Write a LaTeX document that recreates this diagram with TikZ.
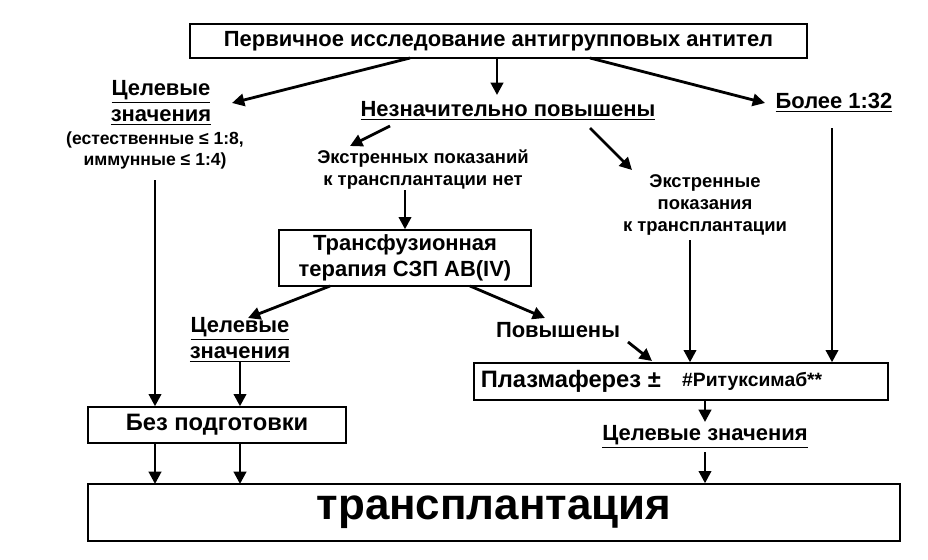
\documentclass[tikz,border=0pt]{standalone}
\usepackage{fontspec}
\setmainfont{Liberation Sans}
\usetikzlibrary{arrows.meta}
\begin{document}
\begin{tikzpicture}[x=0.02cm,y=-0.02cm,
 box/.style={draw,line width=0.8pt,inner sep=0pt},
 t/.style={font=\bfseries\fontsize{11}{13}\selectfont,align=center},
 arr/.style={line width=1.6pt,-{Triangle[length=7pt,width=7pt]}}]
\useasboundingbox (0,0) rectangle (928,559);
\node[box,minimum width=617*0.02cm,minimum height=34*0.02cm,t,font=\bfseries\fontsize{12.5}{14}\selectfont] (top) at (498.5,41) {Первичное исследование антигрупповых антител};
\node[t,font=\bfseries\fontsize{12.5}{15}\selectfont] (cz1) at (161,103) {\underline{Целевые}\\\underline{значения}};
\node[t,font=\bfseries\fontsize{10}{12}\selectfont] (est) at (155,150) {(естественные ≤ 1:8,\\иммунные ≤ 1:4)};
\node[t,font=\bfseries\fontsize{12.5}{14}\selectfont] (np) at (508,111) {\underline{Незначительно повышены}};
\node[t,font=\bfseries\fontsize{12.5}{14}\selectfont] (b32) at (834,103) {\underline{Более 1:32}};
\node[t,font=\bfseries\fontsize{10.5}{12.5}\selectfont] (en) at (423,170) {Экстренных показаний\\к трансплантации нет};
\node[t,font=\bfseries\fontsize{10.5}{12.5}\selectfont] (ep) at (705,205) {Экстренные\\показания\\к трансплантации};
\node[box,minimum width=252*0.02cm,minimum height=56*0.02cm,t,font=\bfseries\fontsize{12.5}{15}\selectfont] (tf) at (405,258) {Трансфузионная\\терапия СЗП AB(IV)};
\node[t,font=\bfseries\fontsize{12.5}{15}\selectfont] (cz2) at (240,340) {\underline{Целевые}\\\underline{значения}};
\node[t,font=\bfseries\fontsize{12.5}{14}\selectfont] (pov) at (558,330) {Повышены};
\node[box,minimum width=414*0.02cm,minimum height=37*0.02cm] (pl) at (681,381.5) {};
\node[t,font=\bfseries\fontsize{13.5}{15}\selectfont,anchor=east] (plt) at (667,381) {Плазмаферез ±};
\node[t,font=\bfseries\fontsize{11}{12}\selectfont,anchor=west] (rit) at (676,381) {\#Ритуксимаб**};
\node[box,minimum width=258*0.02cm,minimum height=36*0.02cm,t,font=\bfseries\fontsize{13.5}{15}\selectfont] (bp) at (217,425) {Без подготовки};
\node[t,font=\bfseries\fontsize{12.5}{14}\selectfont] (cz3) at (705,437) {\underline{Целевые значения}};
\node[box,minimum width=812*0.02cm,minimum height=57*0.02cm,t,font=\bfseries\fontsize{25}{28}\selectfont] (tr) at (494,512.5) {трансплантация};
\coordinate (a1) at (155,180);
\coordinate (a2) at (832,128);
\coordinate (a3) at (690,240);
\coordinate (a4) at (240,362);
\coordinate (a5) at (705,452);
\draw[arr] (410,58) -- (232,103);
\draw[arr] (497,58) -- (497,95);
\draw[arr] (590,58) -- (765,103);
\draw[arr] (390,126) -- (350,146);
\draw[arr] (590,128) -- (632,170);
\draw[arr] (405,190) -- (tf.north);
\draw[arr] (a1) -- (a1 |- bp.north);
\draw[arr] (a2) -- (a2 |- pl.north);
\draw[arr] (a3) -- (a3 |- pl.north);
\draw[arr] (330,286) -- (248,318);
\draw[arr] (470,286) -- (545,318);
\draw[arr] (628,342) -- (652,361);
\draw[arr] (a4) -- (a4 |- bp.north);
\draw[arr] (705,400) -- (705,422);
\draw[arr] (a5) -- (a5 |- tr.north);
\draw[arr] (155,443) -- (155,484);
\draw[arr] (240,443) -- (240,484);
\end{tikzpicture}
\end{document}
